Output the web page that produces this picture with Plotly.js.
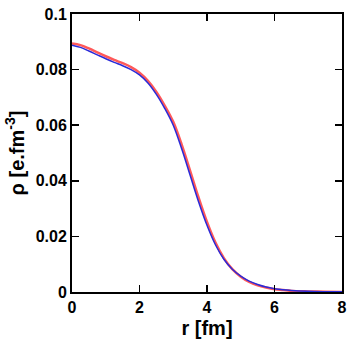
<!DOCTYPE html>
<html>
<head>
<meta charset="utf-8">
<script src="https://cdn.plot.ly/plotly-3.0.1.min.js"></script>
<style>html,body{margin:0;padding:0;background:#fff;}#chart{width:347px;height:346px;}</style>
</head>
<body>
<div id="chart"></div>
<script>
const r = [0, 0.25, 0.5, 0.75, 1.0, 1.25, 1.5, 1.75, 2.0, 2.25, 2.5, 2.75, 3.0, 3.25, 3.5, 3.75, 4.0, 4.25, 4.5, 4.75, 5.0, 5.25, 5.5, 5.75, 6.0, 6.25, 6.5, 7.0, 7.5, 8.0];
const rhoBlue = [0.0888, 0.0880, 0.0867, 0.0853, 0.0839, 0.0826, 0.0814, 0.0800, 0.0781, 0.0752, 0.0711, 0.0660, 0.0600, 0.0515, 0.0420, 0.0325, 0.0240, 0.0170, 0.0118, 0.0082, 0.0057, 0.0039, 0.0027, 0.0018, 0.0012, 0.0008, 0.00055, 0.00025, 0.00012, 0.00006];
const rhoRed = [0.0894, 0.0888, 0.0876, 0.0862, 0.0848, 0.0835, 0.0823, 0.0809, 0.0789, 0.0760, 0.0720, 0.0670, 0.0612, 0.0530, 0.0436, 0.0340, 0.0252, 0.0178, 0.0122, 0.0082, 0.0055, 0.0036, 0.0024, 0.0016, 0.0010, 0.0007, 0.0004, 0.0002, 0.0001, 0.00004];
const xTicks = [0, 2, 4, 6, 8];
const yTicks = [0, 0.02, 0.04, 0.06, 0.08, 0.1];

const fam = 'Liberation Sans, Arial, sans-serif';
const tickFont = {family: fam, size: 16, color: '#000', weight: 'bold'};
const titleFont = {family: fam, size: 20, color: '#000', weight: 'bold'};
const axisCommon = {
  showline: true, linecolor: '#000', linewidth: 2, mirror: 'ticks',
  ticks: 'inside', ticklen: 7, tickwidth: 1.5, tickcolor: '#000',
  showgrid: false, zeroline: false, tickfont: tickFont
};
const data = [
  {x: r, y: rhoRed, mode: 'lines', line: {color: 'rgba(255,60,60,0.85)', width: 2.5, shape: 'spline'}, hoverinfo: 'skip'},
  {x: r, y: rhoBlue, mode: 'lines', line: {color: '#2a2ad8', width: 1.5, shape: 'spline'}, hoverinfo: 'skip'}
];
const layout = {
  width: 347, height: 346,
  margin: {l: 72, r: 5, t: 14, b: 54},
  paper_bgcolor: '#fff', plot_bgcolor: '#fff',
  showlegend: false,
  xaxis: Object.assign({}, axisCommon, {range: [0, 8], tickvals: xTicks,
    title: {text: 'r [fm]', font: titleFont, standoff: 6}}),
  yaxis: Object.assign({}, axisCommon, {range: [0, 0.1], tickvals: yTicks,
    title: {text: 'ρ [e.fm<sup>-3</sup>]', font: titleFont, standoff: 6}})
};
Plotly.newPlot('chart', data, layout, {staticPlot: true, displayModeBar: false});
</script>
</body>
</html>
